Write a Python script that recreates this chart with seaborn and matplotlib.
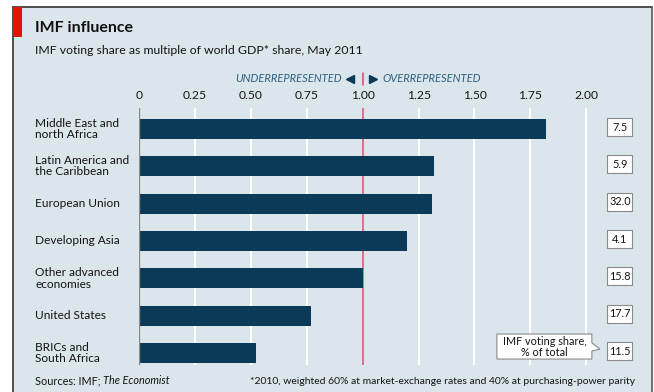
import matplotlib
matplotlib.use("Agg")
import matplotlib.pyplot as plt
from matplotlib.patches import Rectangle, Polygon
from matplotlib.transforms import blended_transform_factory
import seaborn as sns
import pandas as pd

regions = ["Middle East and\nnorth Africa", "Latin America and\nthe Caribbean",
           "European Union", "Developing Asia", "Other advanced\neconomies",
           "United States", "BRICs and\nSouth Africa"]
multiple = [1.82, 1.32, 1.31, 1.20, 1.00, 0.77, 0.525]
vote_share = ["7.5", "5.9", "32.0", "4.1", "15.8", "17.7", "11.5"]
ticks = [0, 0.25, 0.5, 0.75, 1.0, 1.25, 1.5, 1.75, 2.0]
tick_labels = ["0", "0.25", "0.50", "0.75", "1.00", "1.25", "1.50", "1.75", "2.00"]

df = pd.DataFrame({"region": regions, "multiple": multiple})

sns.set_theme(style="white")
plt.rcParams["font.family"] = ["Lato", "DejaVu Sans"]

W, H = 654, 392
fig = plt.figure(figsize=(W / 100, H / 100), dpi=100)
fig.patch.set_facecolor("white")

bg = "#dbe5ec"
navy = "#0b3a58"
red = "#e3120b"
pink = "#d9466a"
txt = "#141414"

def fx(px):
    return px / W

def fy(py):
    return 1 - py / H

# frame
fig.add_artist(Rectangle((fx(13), 0), fx(651) - fx(13), fy(7), transform=fig.transFigure,
                         facecolor=bg, edgecolor="none", zorder=0))
fig.add_artist(plt.Line2D([fx(13), fx(13)], [0, fy(7)], transform=fig.transFigure, color="#333333", lw=1.2))
fig.add_artist(plt.Line2D([fx(13), fx(652)], [fy(7), fy(7)], transform=fig.transFigure, color="#333333", lw=1.2))
fig.add_artist(plt.Line2D([fx(652), fx(652)], [0, fy(7)], transform=fig.transFigure, color="#555555", lw=1.2))
fig.add_artist(Rectangle((fx(13), fy(37)), fx(22) - fx(13), fy(7) - fy(37), transform=fig.transFigure,
                         facecolor=red, edgecolor="none", zorder=2))

ax = fig.add_axes([fx(139), fy(365), fx(631) - fx(139), fy(108) - fy(365)])
ax.set_facecolor("none")

sns.barplot(data=df, x="multiple", y="region", orient="h", color=navy, width=0.54,
            saturation=1, linewidth=0, ax=ax, zorder=3)
ax.set_xlim(0, 2.2)
ax.set_ylim(6.32, -0.56)

for t in ticks[1:]:
    ax.axvline(t, color="white", lw=1.4, zorder=1)
ax.axvline(1.0, color=pink, lw=1.1, zorder=2)
ax.axvline(0, color="#8a8a8a", lw=1.0, zorder=4)

for s in ax.spines.values():
    s.set_visible(False)
ax.xaxis.tick_top()
ax.set_xticks(ticks)
ax.set_xticklabels(tick_labels, fontsize=8.7, color=txt)
ax.tick_params(axis="x", length=0, pad=5)
ax.set_xlabel("")
ax.set_ylabel("")
ax.set_yticks([])

# category labels
tr_lab = blended_transform_factory(fig.transFigure, ax.transData)
for i, r in enumerate(regions):
    ax.text(fx(35), i, r, transform=tr_lab, ha="left", va="center", fontsize=8.6,
            color=txt, linespacing=1.05)

# value boxes
bw, bh = 25 / 223.7, 18 / 37.35
bx = (620 - 139) / 223.7
for i, v in enumerate(vote_share):
    ax.add_patch(Rectangle((bx - bw / 2, i - 0.05 - bh / 2), bw, bh, facecolor="white",
                           edgecolor="#8a8a8a", lw=0.8, clip_on=False, zorder=6))
    ax.text(bx, i - 0.05, v, ha="center", va="center", fontsize=7.8, color=txt,
            clip_on=False, zorder=7)

# callout
x0, x1 = (497 - 139) / 223.7, (592 - 139) / 223.7
y0, y1 = 6 + (334 - 353) / 37.35, 6 + (359 - 353) / 37.35
tipx, tipy = (600 - 139) / 223.7, 6 + (349 - 353) / 37.35
ym = (y0 + y1) / 2
poly = Polygon([(x0, y0), (x1, y0), (x1, ym - 0.1), (tipx, tipy), (x1, ym + 0.12), (x1, y1), (x0, y1)],
               closed=True, facecolor="white", edgecolor="#8a8a8a", lw=0.8, clip_on=False, zorder=6)
ax.add_patch(poly)
ax.text((x0 + x1) / 2, ym, "IMF voting share,\n% of total", ha="center", va="center",
        fontsize=7.8, color=txt, linespacing=1.0, clip_on=False, zorder=7)

# under/over label
tr_top = blended_transform_factory(ax.transData, fig.transFigure)
lab_y = fy(79)
ucol = "#2c5f80"
ax.text((342 - 139) / 223.7, lab_y, "UNDERREPRESENTED", transform=tr_top, ha="right", va="center",
        fontsize=8, style="italic", color=ucol)
ax.text((383 - 139) / 223.7, lab_y, "OVERREPRESENTED", transform=tr_top, ha="left", va="center",
        fontsize=8, style="italic", color=ucol)
ax.plot([(350 - 139) / 223.7], [lab_y], marker="<", color=navy, ms=6, transform=tr_top, clip_on=False)
ax.plot([(373 - 139) / 223.7], [lab_y], marker=">", color=navy, ms=6, transform=tr_top, clip_on=False)
ax.plot([1.0, 1.0], [fy(73), fy(85)], color=pink, lw=1.1, transform=tr_top, clip_on=False)

# titles
fig.text(fx(35), fy(28), "IMF influence", fontsize=11.5, fontweight="bold", color="#111111",
         ha="left", va="center")
fig.text(fx(35), fy(51), "IMF voting share as multiple of world GDP* share, May 2011", fontsize=8.8,
         color=txt, ha="left", va="center")

# footer
t1 = fig.text(fx(35), fy(381), "Sources: IMF; ", fontsize=7.8, color=txt, ha="left", va="center")
fig.canvas.draw()
bb = t1.get_window_extent()
fig.text(bb.x1 / W, fy(381), "The Economist", fontsize=7.8, style="italic", color=txt,
         ha="left", va="center")
fig.text(fx(635), fy(381), "*2010, weighted 60% at market-exchange rates and 40% at purchasing-power parity",
         fontsize=7.5, color=txt, ha="right", va="center")

fig.savefig("out.png", dpi=100)
